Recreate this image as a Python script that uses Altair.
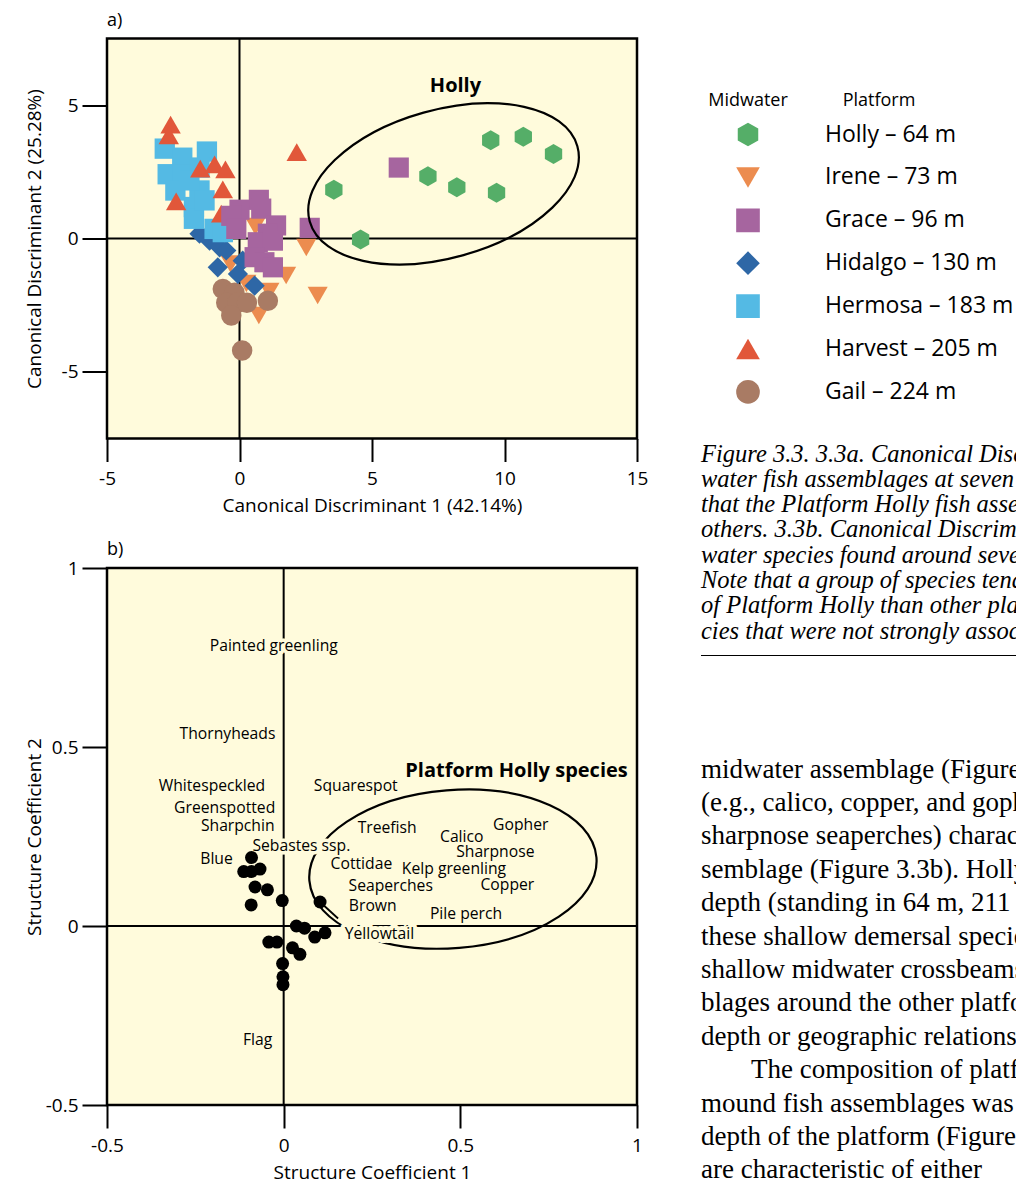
import altair as alt
import pandas as pd

BG = "#FFFBDC"
SANS = "Open Sans"
SERIF = "Liberation Serif"

# ---------------- platforms (legend) ----------------
platforms = ["Holly", "Irene", "Grace", "Hidalgo", "Hermosa", "Harvest", "Gail"]
depths = [64, 73, 96, 130, 183, 205, 224]
colors = ["#55AE68", "#EC8C4F", "#A6659F", "#2E67A6", "#54BAE4", "#E1573A", "#A97B64"]
HEXAGON = "M0,-1L0.866,-0.5L0.866,0.5L0,1L-0.866,0.5L-0.866,-0.5Z"
shapes = [HEXAGON, "triangle-down", "square", "diamond", "square", "triangle-up", "circle"]
marker_sizes = [400, 420, 330, 500, 330, 420, 330]
draw_order = ["Irene", "Gail", "Hidalgo", "Hermosa", "Harvest", "Grace", "Holly"]

# ---------------- panel a: canonical discriminant scores ----------------
holly_x = [3.56, 4.57, 7.11, 8.20, 9.48, 9.70, 10.71, 11.85]
holly_y = [1.83, -0.04, 2.33, 1.92, 3.68, 1.72, 3.82, 3.17]
irene_x = [0.60, 2.52, 1.76, 1.13, 2.95, 0.73, -0.34, 0.26]
irene_y = [0.45, -0.34, -1.39, -1.99, -2.14, -2.89, -0.95, -1.69]
grace_x = [0.73, 0.00, 0.82, -0.31, -0.12, 1.38, 1.07, 0.69, 1.26, 0.57, 0.94, 1.26, 2.65, 6.01]
grace_y = [1.45, 1.08, 1.12, 0.85, 0.36, 0.49, 0.18, -0.14, -0.08, -0.70, -0.89, -1.08, 0.40, 2.66]
hidalgo_x = [-1.51, -1.13, -0.75, -0.50, -0.82, 0.12, -0.06, 0.57]
hidalgo_y = [0.18, -0.08, -0.33, -0.45, -1.08, -0.83, -1.33, -1.77]
hermosa_x = [-2.82, -2.16, -1.23, -2.71, -2.14, -1.51, -2.42, -1.51, -1.72, -1.72, -0.94, -0.63, -1.32, -1.89]
hermosa_y = [3.37, 3.03, 3.26, 2.41, 2.41, 2.66, 1.80, 1.80, 1.18, 0.74, 0.36, 0.24, 1.43, 2.18]
harvest_x = [-2.60, -2.67, -1.48, -0.94, -0.53, -0.63, -2.39, -0.69, 2.16]
harvest_y = [4.27, 3.87, 2.62, 2.78, 2.59, 1.84, 1.39, 0.93, 3.24]
gail_x = [-0.63, -0.19, -0.50, -0.08, 0.28, -0.31, 1.07, 0.10]
gail_y = [-1.89, -2.03, -2.41, -2.41, -2.41, -2.89, -2.33, -4.20]

coords = {
    "Holly": (holly_x, holly_y), "Irene": (irene_x, irene_y), "Grace": (grace_x, grace_y),
    "Hidalgo": (hidalgo_x, hidalgo_y), "Hermosa": (hermosa_x, hermosa_y),
    "Harvest": (harvest_x, harvest_y), "Gail": (gail_x, gail_y),
}
legend_labels = [f"{p} \u2013 {d} m" for p, d in zip(platforms, depths)]

# Holly group ellipse (centre in data units, semi-axes in pixels, tilt in degrees)
ell_a_cx, ell_a_cy = [7.7], [2.05]
ell_a_axes = (139, 74)
ell_a_tilt = 15.7
holly_label = ["Holly"]
holly_label_x, holly_label_y = [8.15], [5.71]

# ---------------- panel b: structure coefficients ----------------
dots_x = [-0.091, -0.113, -0.091, -0.067, -0.081, -0.046, -0.092, -0.004, 0.103, 0.036,
          0.059, 0.088, 0.117, -0.042, -0.019, 0.025, 0.046, -0.003, -0.002, -0.002]
dots_y = [0.191, 0.152, 0.152, 0.159, 0.109, 0.101, 0.059, 0.071, 0.067, 0.000,
          -0.006, -0.031, -0.019, -0.045, -0.045, -0.061, -0.079, -0.105, -0.142, -0.164]
species = ["Painted greenling", "Thornyheads", "Whitespeckled", "Squarespot", "Greenspotted",
           "Sharpchin", "Treefish", "Gopher", "Calico", "Sebastes ssp.", "Sharpnose", "Blue",
           "Cottidae", "Kelp greenling", "Copper", "Seaperches", "Brown", "Pile perch",
           "Yellowtail", "Flag"]
species_x = [-0.028, -0.159, -0.203, 0.204, -0.167, -0.130, 0.293, 0.671, 0.504, 0.050, 0.599,
             -0.190, 0.220, 0.482, 0.633, 0.303, 0.252, 0.516, 0.271, -0.074]
species_y = [0.782, 0.536, 0.391, 0.390, 0.331, 0.278, 0.273, 0.282, 0.250, 0.223, 0.208,
             0.187, 0.172, 0.159, 0.115, 0.112, 0.057, 0.033, -0.021, -0.318]
# width of the background halo behind each label (covers lines like the label boxes do)
species_halo = [7, 7, 7, 7, 7, 7, 7, 7, 7, 7, 7, 7, 7, 7, 7, 7, 7, 3, 8, 7]
group_label = ["Platform Holly species"]
group_label_x, group_label_y = [0.659], [0.434]
leader_x, leader_y, leader_x2, leader_y2 = [0.103], [0.067], [0.154], [0.021]
ell_b_cx, ell_b_cy = [0.479], [0.159]
ell_b_axes = (144, 79)
ell_b_tilt = 4.6

# ---------------- text column ----------------
caption_lines = [
    "Figure 3.3. 3.3a. Canonical Discriminant",
    "water fish assemblages at seven platforms",
    "that the Platform Holly fish assemblage",
    "others. 3.3b. Canonical Discriminant",
    "water species found around seven",
    "Note that a group of species tend to",
    "of Platform Holly than other platforms",
    "cies that were not strongly associated",
]
body_par1 = [
    "midwater assemblage (Figure",
    "(e.g., calico, copper, and gopher",
    "sharpnose seaperches) characterize",
    "semblage (Figure 3.3b). Holly",
    "depth (standing in 64 m, 211",
    "these shallow demersal species",
    "shallow midwater crossbeams",
    "blages around the other platforms",
    "depth or geographic relationships",
]
body_par2_first = ["The composition of platform"]
body_par2_rest = [
    "mound fish assemblages was",
    "depth of the platform (Figure",
    "are characteristic of either",
]


def ellipse_path(ratio):
    k = 0.5523
    r = ratio
    return (f"M-1,0C-1,{-k*r:.4f},{-k:.4f},{-r:.4f},0,{-r:.4f}"
            f"C{k:.4f},{-r:.4f},1,{-k*r:.4f},1,0"
            f"C1,{k*r:.4f},{k:.4f},{r:.4f},0,{r:.4f}"
            f"C{-k:.4f},{r:.4f},-1,{k*r:.4f},-1,0Z")


NEG = "datum.value < 0 ? '-' + format(-datum.value, '~g') : format(datum.value, '~g')"

# ---------------- build panel a ----------------
rows = []
for name in draw_order:
    i = platforms.index(name)
    xs, ys = coords[name]
    for x, y in zip(xs, ys):
        rows.append({"platform": legend_labels[i], "x": x, "y": y, "idx": len(rows)})
df_a = pd.DataFrame(rows)

W, HA, HB = 530, 400, 537
AXF = 19

xa = alt.X("x:Q", scale=alt.Scale(domain=[-5, 15], nice=False, zero=False),
           axis=alt.Axis(values=[-5, 0, 5, 10, 15], labelExpr=NEG, tickSize=23, labelPadding=8,
                         titlePadding=8),
           title="Canonical Discriminant 1 (42.14%)")
ya = alt.Y("y:Q", scale=alt.Scale(domain=[-7.5, 7.5], nice=False, zero=False),
           axis=alt.Axis(values=[-5, 0, 5], labelExpr=NEG, tickSize=25, labelPadding=4,
                         titleX=-73, titleY=HA / 2, titleBaseline="middle"),
           title="Canonical Discriminant 2 (25.28%)")

zero_a = pd.DataFrame({"x": [0.0], "y": [0.0]})
vline_a = alt.Chart(zero_a).mark_rule(color="black", strokeWidth=2).encode(x=xa)
hline_a = alt.Chart(zero_a).mark_rule(color="black", strokeWidth=2).encode(y=ya)

pts_a = alt.Chart(df_a).mark_point(filled=True, opacity=1, strokeWidth=0).encode(
    x=xa, y=ya,
    color=alt.Color("platform:N", scale=alt.Scale(domain=legend_labels, range=colors), legend=None),
    shape=alt.Shape("platform:N", scale=alt.Scale(domain=legend_labels, range=shapes), legend=None),
    size=alt.Size("platform:O", scale=alt.Scale(domain=legend_labels, range=marker_sizes), legend=None),
    order=alt.Order("idx:Q"),
)

ell_a = alt.Chart(pd.DataFrame({"x": ell_a_cx, "y": ell_a_cy})).mark_point(
    shape=ellipse_path(ell_a_axes[1] / ell_a_axes[0]), size=(2 * ell_a_axes[0]) ** 2,
    angle=360 - ell_a_tilt, filled=False, color="black", strokeWidth=2.2, opacity=1,
).encode(x=xa, y=ya)

holly_txt = alt.Chart(pd.DataFrame({"x": holly_label_x, "y": holly_label_y, "t": holly_label})).mark_text(
    font=SANS, fontSize=20, fontWeight="bold", color="black").encode(x=xa, y=ya, text="t:N")

tag_a = alt.Chart(pd.DataFrame({"t": ["a)"]})).mark_text(
    font=SANS, fontSize=18, align="left", baseline="middle", color="black").encode(
    x=alt.value(0), y=alt.value(-18), text="t:N")

panel_a = alt.layer(vline_a, hline_a, pts_a, ell_a, holly_txt, tag_a).properties(
    width=W, height=HA,
    view={"fill": BG, "stroke": "black", "strokeWidth": 2.5},
)

# ---------------- build panel b ----------------
xb = alt.X("x:Q", scale=alt.Scale(domain=[-0.5, 1], nice=False, zero=False),
           axis=alt.Axis(values=[-0.5, 0, 0.5, 1], labelExpr=NEG, tickSize=23, labelPadding=8,
                         titlePadding=8),
           title="Structure Coefficient 1")
yb = alt.Y("y:Q", scale=alt.Scale(domain=[-0.5, 1], nice=False, zero=False),
           axis=alt.Axis(values=[-0.5, 0, 0.5, 1], labelExpr=NEG, tickSize=25, labelPadding=4,
                         titleX=-73, titleY=HB / 2, titleBaseline="middle"),
           title="Structure Coefficient 2")

zero_b = pd.DataFrame({"x": [0.0], "y": [0.0]})
vline_b = alt.Chart(zero_b).mark_rule(color="black", strokeWidth=2).encode(x=xb)
hline_b = alt.Chart(zero_b).mark_rule(color="black", strokeWidth=2).encode(y=yb)

ell_b = alt.Chart(pd.DataFrame({"x": ell_b_cx, "y": ell_b_cy})).mark_point(
    shape=ellipse_path(ell_b_axes[1] / ell_b_axes[0]), size=(2 * ell_b_axes[0]) ** 2,
    angle=360 - ell_b_tilt, filled=False, color="black", strokeWidth=2.2, opacity=1,
).encode(x=xb, y=yb)

leader = alt.Chart(pd.DataFrame({"x": leader_x, "y": leader_y, "x2": leader_x2, "y2": leader_y2})).mark_rule(
    color="black", strokeWidth=1.8).encode(x=xb, y=yb, x2="x2:Q", y2="y2:Q")

SPF = 15.7
df_sp = pd.DataFrame({"x": species_x, "y": species_y, "t": species, "hw": species_halo})
halo = alt.Chart(df_sp).mark_text(font=SANS, fontSize=SPF, fill=BG, stroke=BG,
                                  strokeJoin="round").encode(
    x=xb, y=yb, text="t:N", strokeWidth=alt.StrokeWidth("hw:Q", scale=None))
sp_txt = alt.Chart(df_sp).mark_text(font=SANS, fontSize=SPF, color="black").encode(x=xb, y=yb, text="t:N")

dots = alt.Chart(pd.DataFrame({"x": dots_x, "y": dots_y})).mark_point(
    filled=True, opacity=1, size=169, color="black", shape="circle", strokeWidth=0).encode(x=xb, y=yb)

grp_txt = alt.Chart(pd.DataFrame({"x": group_label_x, "y": group_label_y, "t": group_label})).mark_text(
    font=SANS, fontSize=20, fontWeight="bold", color="black").encode(x=xb, y=yb, text="t:N")

tag_b = alt.Chart(pd.DataFrame({"t": ["b)"]})).mark_text(
    font=SANS, fontSize=18, align="left", baseline="middle", color="black").encode(
    x=alt.value(0), y=alt.value(-18), text="t:N")

panel_b = alt.layer(vline_b, hline_b, ell_b, leader, halo, sp_txt, dots, grp_txt, tag_b).properties(
    width=W, height=HB,
    view={"fill": BG, "stroke": "black", "strokeWidth": 2.5},
)

# ---------------- right column: legend + text ----------------
# local origin of this column = top of panel a's plot area in y, ~667 px in x
WR, HR = 351, 1140

leg_cfg = dict(orient="none", legendX=71, legendY=81, symbolSize=560, symbolStrokeWidth=0,
               labelFontSize=23, labelFont=SANS, labelColor="black", labelOffset=65,
               labelLimit=400, rowPadding=12.9, clipHeight=30, padding=0)
legend_src = alt.Chart(pd.DataFrame({"platform": legend_labels})).mark_point(
    filled=True, clip=True, opacity=1).encode(
    x=alt.value(-200), y=alt.value(-200),
    color=alt.Color("platform:N", scale=alt.Scale(domain=legend_labels, range=colors),
                    legend=alt.Legend(**leg_cfg), title=None),
    shape=alt.Shape("platform:N", scale=alt.Scale(domain=legend_labels, range=shapes),
                    legend=alt.Legend(**leg_cfg), title=None),
)

hdr1 = alt.Chart(pd.DataFrame({"t": ["Midwater"]})).mark_text(
    font=SANS, fontSize=18, color="black").encode(x=alt.value(83), y=alt.value(62), text="t:N")
hdr2 = alt.Chart(pd.DataFrame({"t": ["Platform"]})).mark_text(
    font=SANS, fontSize=18, color="black").encode(x=alt.value(214), y=alt.value(62), text="t:N")

caption = alt.Chart(pd.DataFrame({"t": ["\n".join(caption_lines)]})).mark_text(
    font=SERIF, fontStyle="italic", fontSize=24.5, lineHeight=25.3, lineBreak="\n",
    align="left", baseline="alphabetic", color="black", clip=True,
).encode(x=alt.value(36), y=alt.value(423), text="t:N")

rule = alt.Chart(pd.DataFrame({"t": [0]})).mark_rule(color="black", strokeWidth=1).encode(
    x=alt.value(36), x2=alt.value(WR), y=alt.value(617))

BODY_Y0, BODY_LH = 739, 33.4


def body_block(lines, first_index, x):
    return alt.Chart(pd.DataFrame({"t": ["\n".join(lines)]})).mark_text(
        font=SERIF, fontSize=27, lineHeight=BODY_LH, lineBreak="\n",
        align="left", baseline="alphabetic", color="black", clip=True,
    ).encode(x=alt.value(x), y=alt.value(BODY_Y0 + BODY_LH * first_index), text="t:N")


body1 = body_block(body_par1, 0, 36)
body2 = body_block(body_par2_first, len(body_par1), 86)
body3 = body_block(body_par2_rest, len(body_par1) + 1, 36)

right = alt.layer(legend_src, hdr1, hdr2, caption, rule, body1, body2, body3).properties(
    width=WR, height=HR, view={"fill": "transparent", "stroke": "transparent"})

left = alt.vconcat(panel_a, panel_b, spacing=21.5)

chart = alt.hconcat(left, right, spacing=14).resolve_scale(
    color="independent", shape="independent", size="independent"
).properties(
    padding={"left": 15, "top": 1.5, "right": 0, "bottom": 0}
).configure(font=SANS).configure_axis(
    labelFont=SANS, titleFont=SANS, labelFontSize=AXF, titleFontSize=19, labelColor="black",
    titleColor="black", tickColor="black", tickWidth=2, domain=False, grid=False,
    titleFontWeight="normal", labelFlush=False, labelOverlap=False,
).configure_view(stroke="transparent")

chart.save("out.html", embed_options={"renderer": "svg", "actions": False})
